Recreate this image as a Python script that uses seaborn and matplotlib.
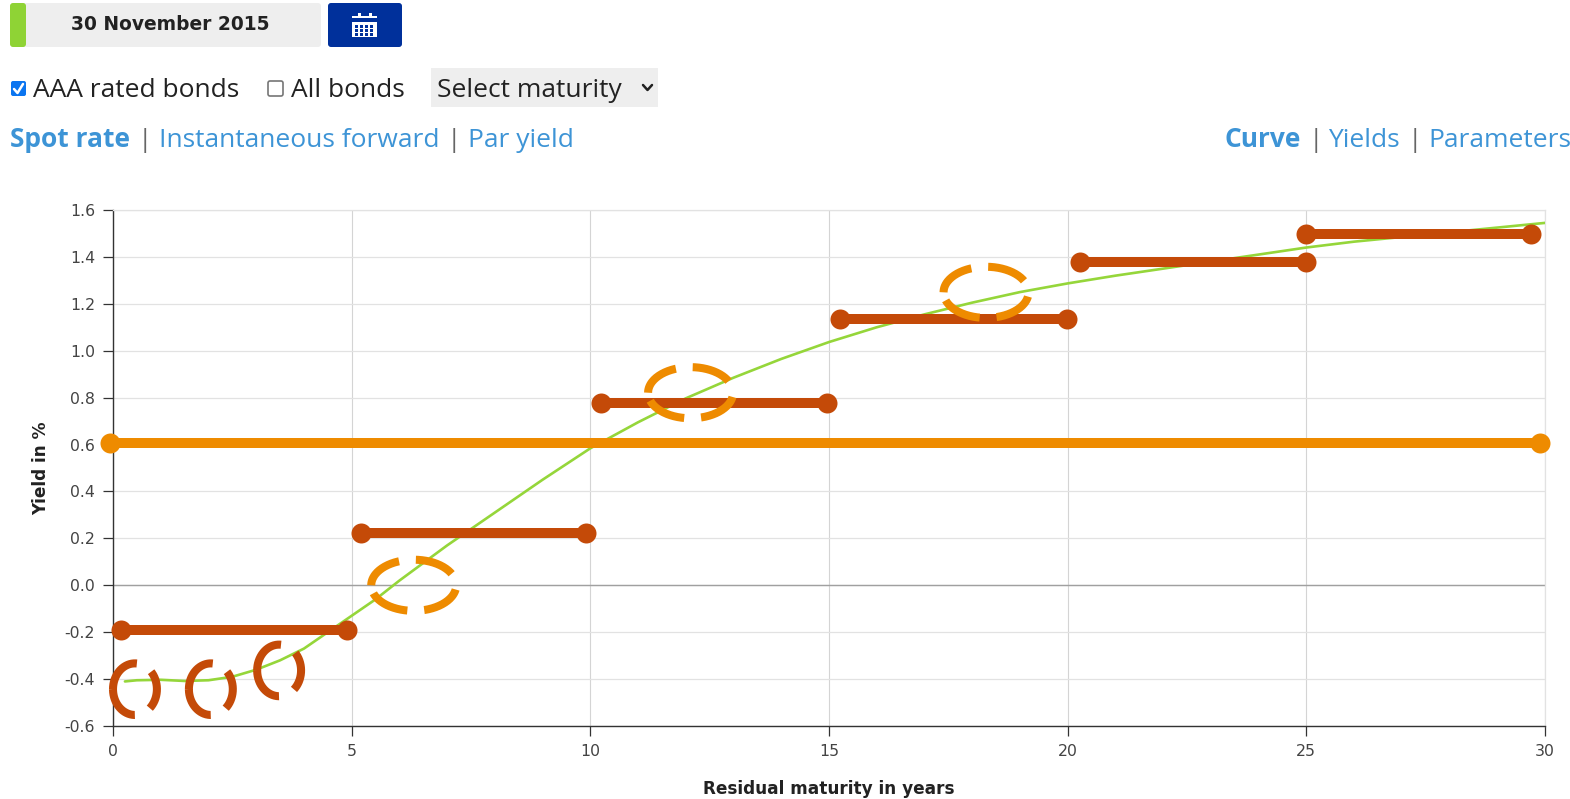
import numpy as np
import pandas as pd
import matplotlib
matplotlib.use("Agg")
import matplotlib.pyplot as plt
from matplotlib.patches import FancyBboxPatch, Rectangle
import seaborn as sns

# curve
curve_x = [0.25, 0.5, 1, 1.5, 2, 2.5, 3, 3.5, 4, 4.5, 5, 5.5, 6, 7, 8, 9, 10, 11, 12, 13, 14, 15,
           16, 17, 18, 19, 20, 21, 22, 23, 24, 25, 26, 27, 28, 29, 30]
curve_y = [-0.41, -0.405, -0.403, -0.408, -0.405, -0.39, -0.36, -0.32, -0.27, -0.2, -0.13, -0.06, 0.02,
           0.17, 0.31, 0.45, 0.584, 0.695, 0.797, 0.885, 0.965, 1.037, 1.10, 1.155, 1.205, 1.25, 1.287,
           1.32, 1.35, 1.38, 1.41, 1.44, 1.465, 1.485, 1.505, 1.525, 1.545]

# buckets
bucket_start = [0.17, 5.2, 10.22, 15.23, 20.26, 25.0]
bucket_end = [4.9, 9.91, 14.95, 19.98, 25.0, 29.71]
bucket_yield = [-0.189, 0.222, 0.776, 1.134, 1.377, 1.497]

avg_start = -0.06
avg_end = 29.9
avg_yield = 0.608

# dashed rings
red_x = [0.46, 2.05, 3.48]
red_y = [-0.443, -0.443, -0.363]
orange_x = [6.3, 12.1, 18.29]
orange_y = [0.0, 0.821, 1.249]

x_ticks = [0, 5, 10, 15, 20, 25, 30]
y_ticks = [-0.6, -0.4, -0.2, 0.0, 0.2, 0.4, 0.6, 0.8, 1.0, 1.2, 1.4, 1.6]

GREEN = "#95d63a"
RED = "#c44a08"
ORANGE = "#ee8b00"
LINK = "#3d94d6"
NAVY = "#00309b"
TXT = "#222222"
UI_FONT = "Open Sans"

W, H = 1570, 799
sns.set_theme(style="whitegrid")
plt.rcParams['font.family'] = ['DejaVu Sans']

fig = plt.figure(figsize=(W / 100, H / 100), dpi=100, facecolor="white")
ax = fig.add_axes([113 / W, 1 - 726 / H, (1545 - 113) / W, (726 - 210) / H])

# page furniture in pixel coordinates
ui = fig.add_axes([0, 0, 1, 1], zorder=-1)
ui.set_xlim(0, W)
ui.set_ylim(H, 0)
ui.axis("off")

ui.add_patch(FancyBboxPatch((11, 3), 310, 44, boxstyle="round,pad=0,rounding_size=3", fc="#eeeeee", ec="none"))
ui.add_patch(FancyBboxPatch((10, 3), 16, 44, boxstyle="round,pad=0,rounding_size=3", fc="#8fd335", ec="none"))
ui.text(170, 25, "30 November 2015", ha="center", va="center", fontsize=13.4, fontweight="bold", color=TXT)
ui.add_patch(FancyBboxPatch((328, 3), 74, 44, boxstyle="round,pad=0,rounding_size=3", fc=NAVY, ec="none"))
ui.add_patch(Rectangle((352, 16), 25, 21, fc="white", ec="none"))
ui.add_patch(Rectangle((352, 18), 25, 4, fc=NAVY, ec="none"))
ui.add_patch(Rectangle((358, 13), 2.5, 5, fc="white", ec="none"))
ui.add_patch(Rectangle((369, 13), 2.5, 5, fc="white", ec="none"))
for cx in [355, 360, 365, 370]:
    for cy in [25, 29, 33]:
        ui.add_patch(Rectangle((cx, cy), 2.5, 2.5, fc=NAVY, ec="none"))

ui.add_patch(FancyBboxPatch((11, 81), 15, 15, boxstyle="round,pad=0,rounding_size=2", fc="#0b75f0", ec="none"))
ui.plot([14, 17.5, 23], [89, 93, 84], color="white", lw=1.8)
ui.text(33, 97, "AAA rated bonds", ha="left", va="baseline", fontsize=19, family=UI_FONT, color=TXT)
ui.add_patch(FancyBboxPatch((268, 81), 15, 15, boxstyle="round,pad=0,rounding_size=2", fc="white", ec="#767676", lw=1.2))
ui.text(291, 97, "All bonds", ha="left", va="baseline", fontsize=19, family=UI_FONT, color=TXT)
ui.add_patch(Rectangle((431, 68), 227, 39, fc="#eeeeee", ec="none"))
ui.text(437, 97, "Select maturity", ha="left", va="baseline", fontsize=19, family=UI_FONT, color=TXT)
ui.plot([643, 647.5, 652], [85, 90, 85], color=TXT, lw=1.8)

link_row = [
    (10, "Spot rate", LINK, "bold"),
    (138, "|", "#666666", "normal"),
    (159, "Instantaneous forward", LINK, "normal"),
    (447, "|", "#666666", "normal"),
    (468, "Par yield", LINK, "normal"),
    (1224, "Curve", LINK, "bold"),
    (1309, "|", "#666666", "normal"),
    (1328, "Yields", LINK, "normal"),
    (1408, "|", "#666666", "normal"),
    (1428, "Parameters", LINK, "normal"),
]
for px, label, col, weight in link_row:
    ui.text(px, 147, label, ha="left", va="baseline", fontsize=19, family=UI_FONT,
            color=col, fontweight=weight)

# chart
curve = pd.DataFrame({"x": curve_x, "y": curve_y})
sns.lineplot(data=curve, x="x", y="y", ax=ax, color=GREEN, lw=1.9, zorder=3, errorbar=None)

for x0, x1, yv in zip(bucket_start, bucket_end, bucket_yield):
    seg = pd.DataFrame({"x": [x0, x1], "y": [yv, yv]})
    sns.lineplot(data=seg, x="x", y="y", ax=ax, color=RED, lw=7.2, marker="o", ms=14.4, mec=RED, mew=0,
                 zorder=5, clip_on=False, errorbar=None, solid_capstyle="butt")

avg = pd.DataFrame({"x": [avg_start, avg_end], "y": [avg_yield, avg_yield]})
sns.lineplot(data=avg, x="x", y="y", ax=ax, color=ORANGE, lw=7.2, marker="o", ms=14.4, mec=ORANGE, mew=0,
             zorder=6, clip_on=False, errorbar=None, solid_capstyle="butt")


def ring(cx, cy, rx, ry, color):
    # starts at 9 o'clock and runs clockwise, like the svg path
    t = np.linspace(0, 2 * np.pi, 200)
    ax.plot(cx - rx * np.cos(t), cy + ry * np.sin(t), color=color, lw=5.8, zorder=7,
            dashes=(4.9, 2.1), dash_capstyle="butt", clip_on=False)


for cx, cy in zip(red_x, red_y):
    ring(cx, cy, 0.46, 0.11, RED)
for cx, cy in zip(orange_x, orange_y):
    ring(cx, cy, 0.89, 0.109, ORANGE)

ax.set_xlim(0, 30)
ax.set_ylim(-0.6, 1.6)
ax.set_xticks(x_ticks)
ax.set_yticks(y_ticks)
ax.set_yticklabels([f"{v:.1f}" for v in y_ticks])
ax.grid(axis="y", color="#e2e2e2", lw=0.9)
ax.grid(axis="x", color="#d4d4d4", lw=0.8)
ax.axhline(0, color="#a0a0a0", lw=1, zorder=2)
ax.set_axisbelow(True)
for side in ["top", "right"]:
    ax.spines[side].set_color("#e2e2e2")
    ax.spines[side].set_linewidth(0.9)
for side in ["left", "bottom"]:
    ax.spines[side].set_color("#333333")
    ax.spines[side].set_linewidth(1)
ax.tick_params(axis="both", length=7, width=0.9, color="#333333", labelsize=11.3, labelcolor="#444444", pad=6,
               left=True, bottom=True)
ax.set_xlabel("Residual maturity in years", fontsize=12.2, fontweight="bold", color=TXT, labelpad=15)
ax.set_ylabel("Yield in %", fontsize=12.2, fontweight="bold", color=TXT, labelpad=10)

fig.savefig("out.png", dpi=100)
